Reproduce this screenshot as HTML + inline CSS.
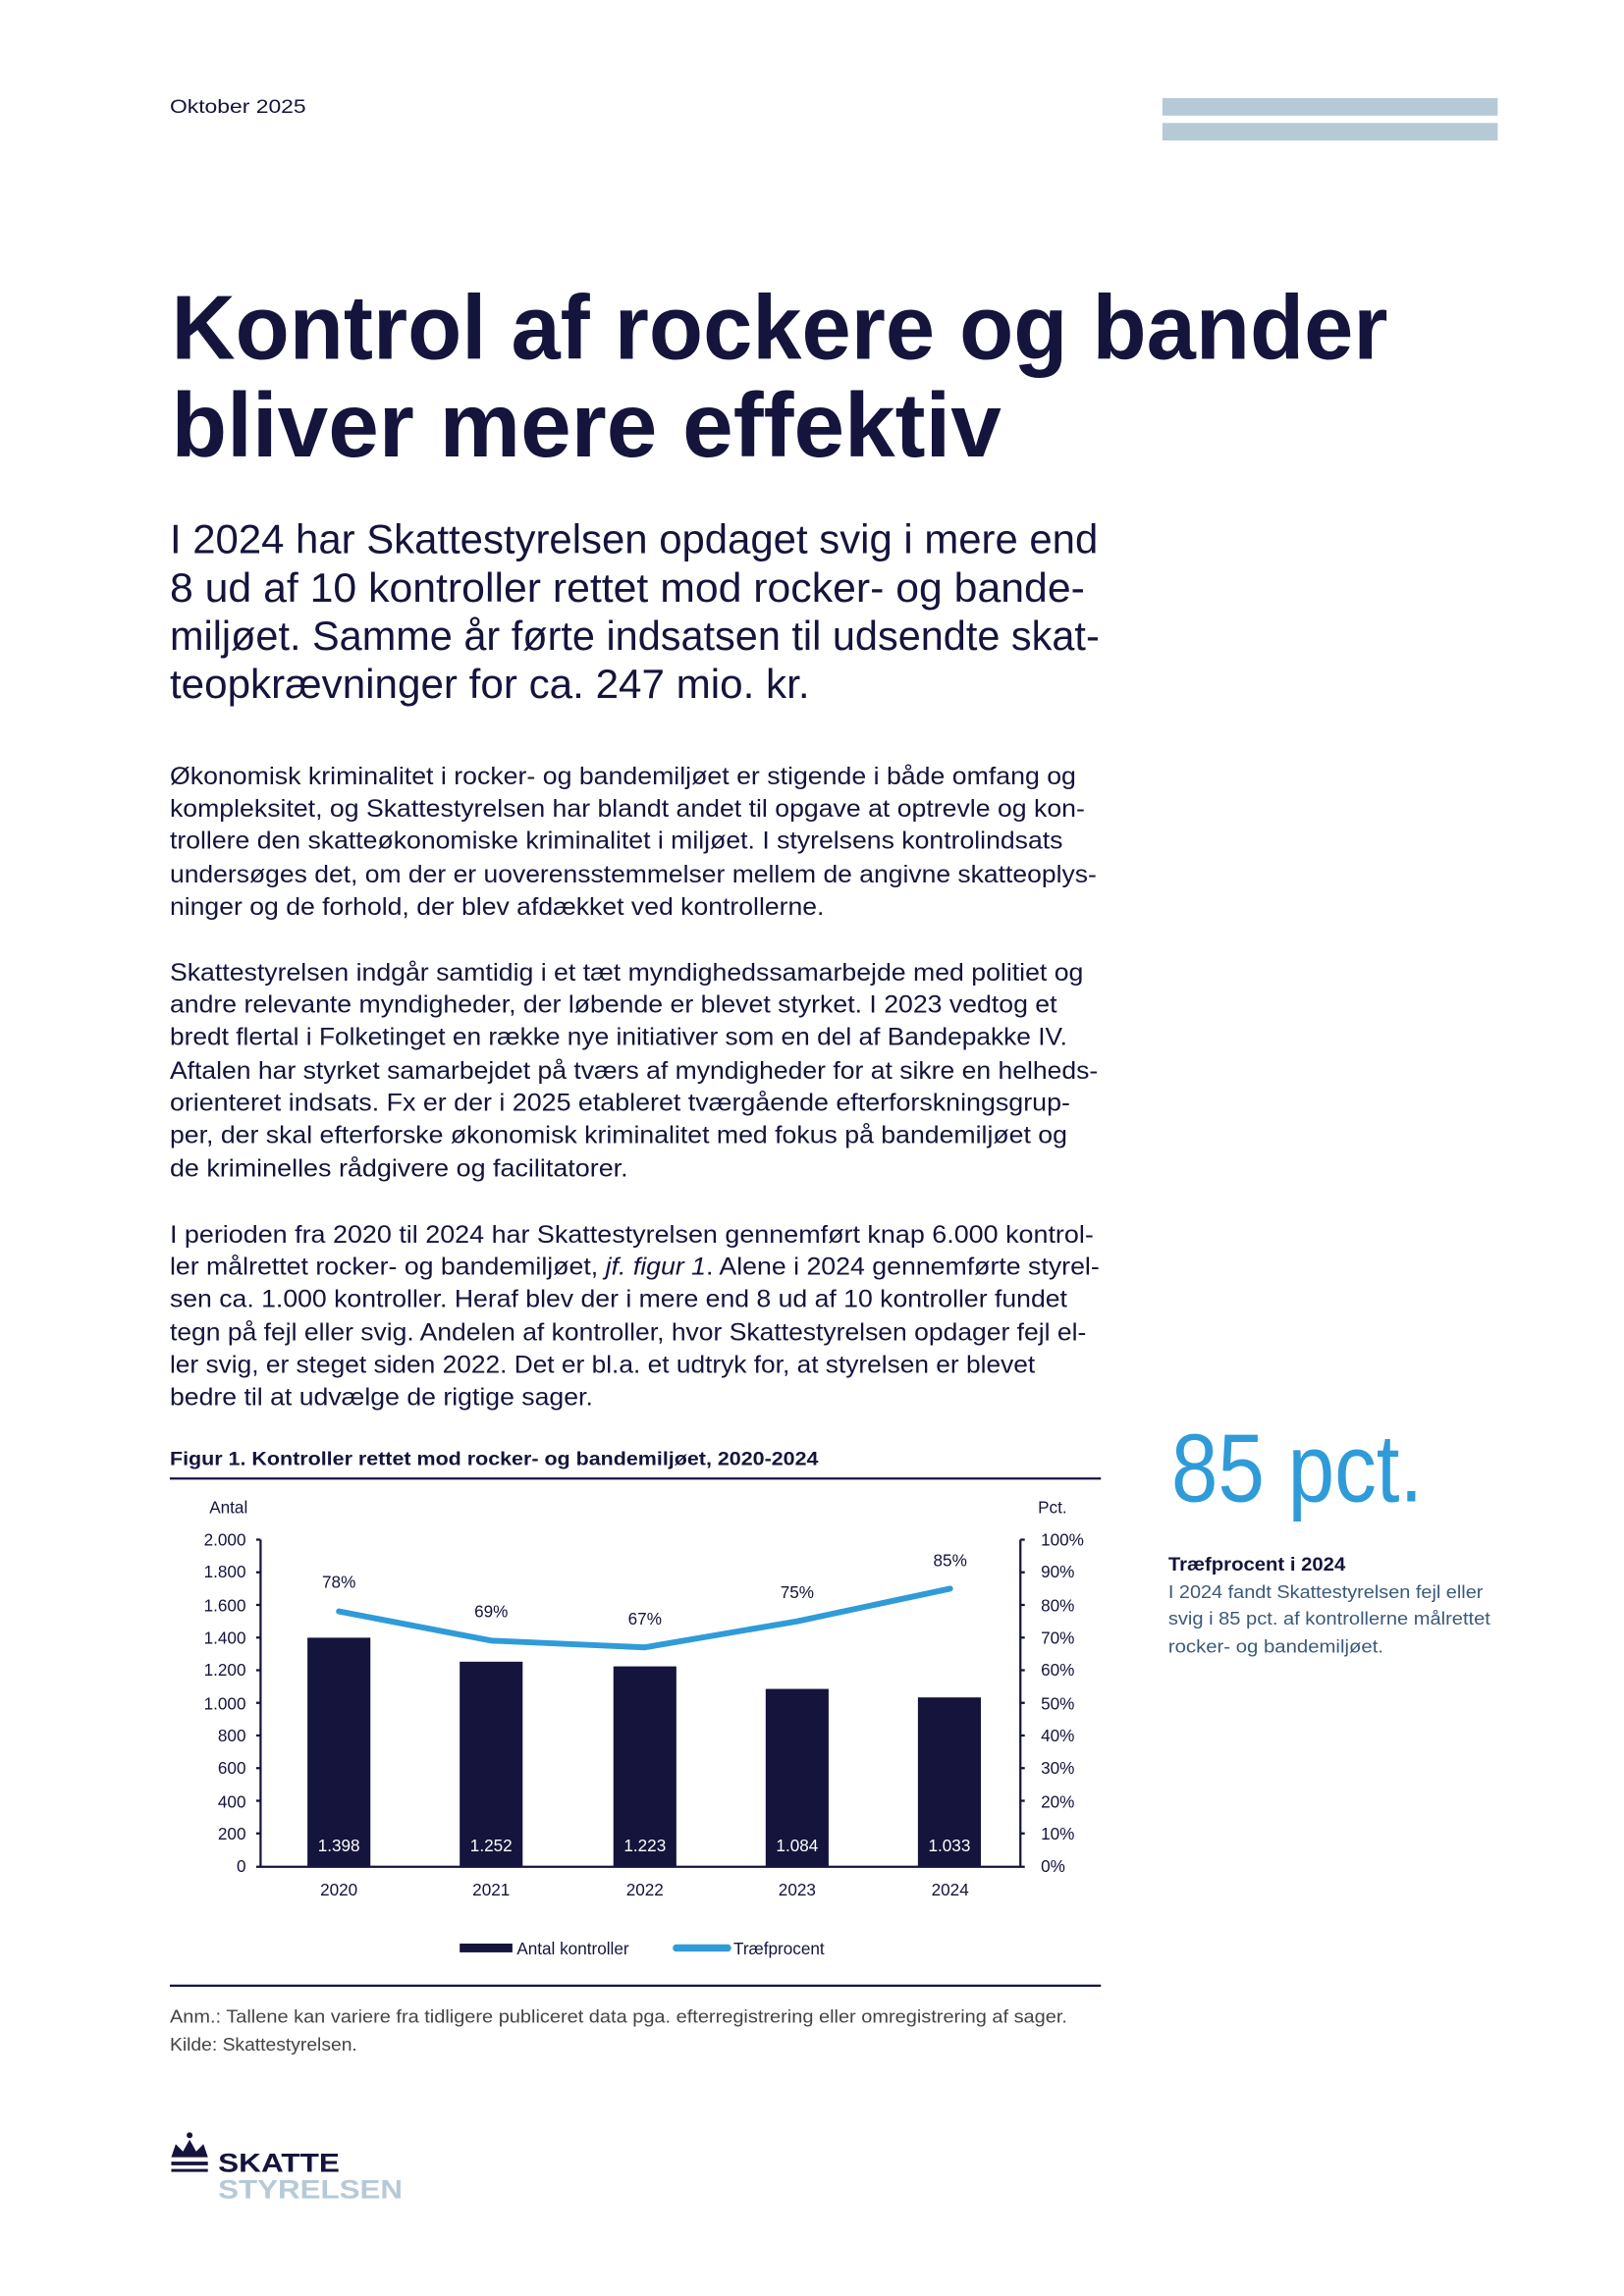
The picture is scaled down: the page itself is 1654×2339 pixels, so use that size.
<!DOCTYPE html>
<html><head><meta charset="utf-8"><style>
html,body{margin:0;padding:0;background:#fff}
svg{display:block}
text{font-family:"Liberation Sans",sans-serif;fill:#14143c}
</style></head><body>
<svg width="1654" height="2339" viewBox="0 0 1109.3 1568.8" preserveAspectRatio="none" xmlns="http://www.w3.org/2000/svg">
<text x="116" y="77" font-size="13" textLength="93" lengthAdjust="spacingAndGlyphs">Oktober 2025</text>
<rect x="794" y="67" width="229" height="12" fill="#b6c9d7"/>
<rect x="794" y="84" width="229" height="12" fill="#b6c9d7"/>

<g font-weight="bold" font-size="62">
<text x="117" y="245" textLength="831" lengthAdjust="spacingAndGlyphs">Kontrol af rockere og bander</text>
<text x="117" y="312" textLength="567" lengthAdjust="spacingAndGlyphs">bliver mere effektiv</text>
</g>
<g font-size="28">
<text x="116" y="378" textLength="634" lengthAdjust="spacingAndGlyphs">I 2024 har Skattestyrelsen opdaget svig i mere end</text>
<text x="116" y="411" textLength="625" lengthAdjust="spacingAndGlyphs">8 ud af 10 kontroller rettet mod rocker- og bande-</text>
<text x="116" y="444" textLength="635" lengthAdjust="spacingAndGlyphs">miljøet. Samme år førte indsatsen til udsendte skat-</text>
<text x="116" y="477" textLength="437" lengthAdjust="spacingAndGlyphs">teopkrævninger for ca. 247 mio. kr.</text>
</g>
<g font-size="16.5">
<text x="116" y="536" textLength="619" lengthAdjust="spacingAndGlyphs">Økonomisk kriminalitet i rocker- og bandemiljøet er stigende i både omfang og</text>
<text x="116" y="558" textLength="625" lengthAdjust="spacingAndGlyphs">kompleksitet, og Skattestyrelsen har blandt andet til opgave at optrevle og kon-</text>
<text x="116" y="580" textLength="610" lengthAdjust="spacingAndGlyphs">trollere den skatteøkonomiske kriminalitet i miljøet. I styrelsens kontrolindsats</text>
<text x="116" y="603" textLength="633" lengthAdjust="spacingAndGlyphs">undersøges det, om der er uoverensstemmelser mellem de angivne skatteoplys-</text>
<text x="116" y="625" textLength="447" lengthAdjust="spacingAndGlyphs">ninger og de forhold, der blev afdækket ved kontrollerne.</text>

<text x="116" y="670" textLength="624" lengthAdjust="spacingAndGlyphs">Skattestyrelsen indgår samtidig i et tæt myndighedssamarbejde med politiet og</text>
<text x="116" y="692" textLength="606" lengthAdjust="spacingAndGlyphs">andre relevante myndigheder, der løbende er blevet styrket. I 2023 vedtog et</text>
<text x="116" y="714" textLength="613" lengthAdjust="spacingAndGlyphs">bredt flertal i Folketinget en række nye initiativer som en del af Bandepakke IV.</text>
<text x="116" y="737" textLength="634" lengthAdjust="spacingAndGlyphs">Aftalen har styrket samarbejdet på tværs af myndigheder for at sikre en helheds-</text>
<text x="116" y="759" textLength="615" lengthAdjust="spacingAndGlyphs">orienteret indsats. Fx er der i 2025 etableret tværgående efterforskningsgrup-</text>
<text x="116" y="781" textLength="613" lengthAdjust="spacingAndGlyphs">per, der skal efterforske økonomisk kriminalitet med fokus på bandemiljøet og</text>
<text x="116" y="804" textLength="313" lengthAdjust="spacingAndGlyphs">de kriminelles rådgivere og facilitatorer.</text>

<text x="116" y="849" textLength="631" lengthAdjust="spacingAndGlyphs">I perioden fra 2020 til 2024 har Skattestyrelsen gennemført knap 6.000 kontrol-</text>
<text x="116" y="871" textLength="635" lengthAdjust="spacingAndGlyphs">ler målrettet rocker- og bandemiljøet, <tspan font-style="italic">jf. figur 1</tspan>. Alene i 2024 gennemførte styrel-</text>
<text x="116" y="893" textLength="613" lengthAdjust="spacingAndGlyphs">sen ca. 1.000 kontroller. Heraf blev der i mere end 8 ud af 10 kontroller fundet</text>
<text x="116" y="916" textLength="626" lengthAdjust="spacingAndGlyphs">tegn på fejl eller svig. Andelen af kontroller, hvor Skattestyrelsen opdager fejl el-</text>
<text x="116" y="938" textLength="591" lengthAdjust="spacingAndGlyphs">ler svig, er steget siden 2022. Det er bl.a. et udtryk for, at styrelsen er blevet</text>
<text x="116" y="960" textLength="289" lengthAdjust="spacingAndGlyphs">bedre til at udvælge de rigtige sager.</text>
</g>

<text x="116" y="1001" font-size="13" font-weight="bold" textLength="443" lengthAdjust="spacingAndGlyphs">Figur 1. Kontroller rettet mod rocker- og bandemiljøet, 2020-2024</text>
<rect x="116" y="1009.5" width="636" height="1.5" fill="#14143c"/>
<rect x="116" y="1356" width="636" height="1.5" fill="#14143c"/>

<g font-size="11.5">
<text x="143" y="1034">Antal</text>
<text x="709" y="1034">Pct.</text>
<g text-anchor="end">
<text x="168" y="1056">2.000</text><text x="168" y="1078">1.800</text><text x="168" y="1101">1.600</text>
<text x="168" y="1123">1.400</text><text x="168" y="1145">1.200</text><text x="168" y="1168">1.000</text>
<text x="168" y="1190">800</text><text x="168" y="1212">600</text><text x="168" y="1235">400</text>
<text x="168" y="1257">200</text><text x="168" y="1279">0</text>
</g>
<g>
<text x="711" y="1056">100%</text><text x="711" y="1078">90%</text><text x="711" y="1101">80%</text>
<text x="711" y="1123">70%</text><text x="711" y="1145">60%</text><text x="711" y="1168">50%</text>
<text x="711" y="1190">40%</text><text x="711" y="1212">30%</text><text x="711" y="1235">20%</text>
<text x="711" y="1257">10%</text><text x="711" y="1279">0%</text>
</g>
</g>
<g fill="#14143c">
<rect x="210" y="1119" width="43" height="156"/>
<rect x="314" y="1135.4" width="43" height="139.6"/>
<rect x="419" y="1138.6" width="43" height="136.4"/>
<rect x="523" y="1154" width="43" height="121"/>
<rect x="627" y="1159.8" width="43" height="115.2"/>
</g>
<g stroke="#14143c" stroke-width="1.5">
<line x1="178" y1="1052" x2="178" y2="1275.5"/>
<line x1="697" y1="1052" x2="697" y2="1275.5"/>
<line x1="175" y1="1275.5" x2="700" y2="1275.5"/>
<path d="M175 1052h3M175 1074.3h3M175 1096.6h3M175 1118.9h3M175 1141.2h3M175 1163.5h3M175 1185.8h3M175 1208.1h3M175 1230.4h3M175 1252.7h3"/>
<path d="M697 1052h3M697 1074.3h3M697 1096.6h3M697 1118.9h3M697 1141.2h3M697 1163.5h3M697 1185.8h3M697 1208.1h3M697 1230.4h3M697 1252.7h3"/>
</g>
<polyline points="231.5,1101 335.5,1121 440.5,1125.6 544.5,1107.8 649,1085.5" fill="none" stroke="#2f9bd9" stroke-width="4" stroke-linecap="round" stroke-linejoin="round"/>
<g font-size="11.5" text-anchor="middle">
<text x="231.5" y="1085">78%</text><text x="335.5" y="1105">69%</text><text x="440.5" y="1110">67%</text>
<text x="544.5" y="1092">75%</text><text x="649" y="1070">85%</text>
<text x="231.5" y="1265" style="fill:#fff">1.398</text><text x="335.5" y="1265" style="fill:#fff">1.252</text>
<text x="440.5" y="1265" style="fill:#fff">1.223</text><text x="544.5" y="1265" style="fill:#fff">1.084</text>
<text x="648.5" y="1265" style="fill:#fff">1.033</text>
<text x="231.5" y="1295">2020</text><text x="335.5" y="1295">2021</text><text x="440.5" y="1295">2022</text>
<text x="544.5" y="1295">2023</text><text x="649" y="1295">2024</text>
</g>
<rect x="314" y="1328" width="36" height="6" fill="#14143c"/>
<text x="353" y="1335.5" font-size="11.5">Antal kontroller</text>
<line x1="462" y1="1331" x2="497" y2="1331" stroke="#2f9bd9" stroke-width="5" stroke-linecap="round"/>
<text x="501" y="1335.5" font-size="11.5">Træfprocent</text>

<g font-size="12.5">
<text x="116" y="1382" textLength="613" lengthAdjust="spacingAndGlyphs" style="fill:#444">Anm.: Tallene kan variere fra tidligere publiceret data pga. efterregistrering eller omregistrering af sager.</text>
<text x="116" y="1401" textLength="128" lengthAdjust="spacingAndGlyphs" style="fill:#444">Kilde: Skattestyrelsen.</text>
</g>

<text x="800" y="1026" font-size="66" textLength="172" lengthAdjust="spacingAndGlyphs" style="fill:#2f9bd9">85 pct.</text>
<text x="798" y="1073" font-size="13" font-weight="bold" textLength="121" lengthAdjust="spacingAndGlyphs">Træfprocent i 2024</text>
<g font-size="12.5">
<text x="798" y="1092" textLength="215" lengthAdjust="spacingAndGlyphs" style="fill:#3a5a7a">I 2024 fandt Skattestyrelsen fejl eller</text>
<text x="798" y="1110" textLength="220" lengthAdjust="spacingAndGlyphs" style="fill:#3a5a7a">svig i 85 pct. af kontrollerne målrettet</text>
<text x="798" y="1129" textLength="147" lengthAdjust="spacingAndGlyphs" style="fill:#3a5a7a">rocker- og bandemiljøet.</text>
</g>

<g fill="#14143c">
<path d="M117 1474 l3 -9 l5 5 l4.5 -8 l4.5 8 l5 -5 l3 9 z"/>
<rect x="117" y="1477" width="25" height="2.5"/>
<rect x="117" y="1482" width="25" height="2"/>
<circle cx="129.5" cy="1459" r="2"/>
</g>
<text x="149" y="1484" font-size="18" font-weight="bold" textLength="83" lengthAdjust="spacingAndGlyphs">SKATTE</text>
<text x="149" y="1502" font-size="18" font-weight="bold" textLength="126" lengthAdjust="spacingAndGlyphs" style="fill:#b6c9d7">STYRELSEN</text>
</svg>
</body></html>
